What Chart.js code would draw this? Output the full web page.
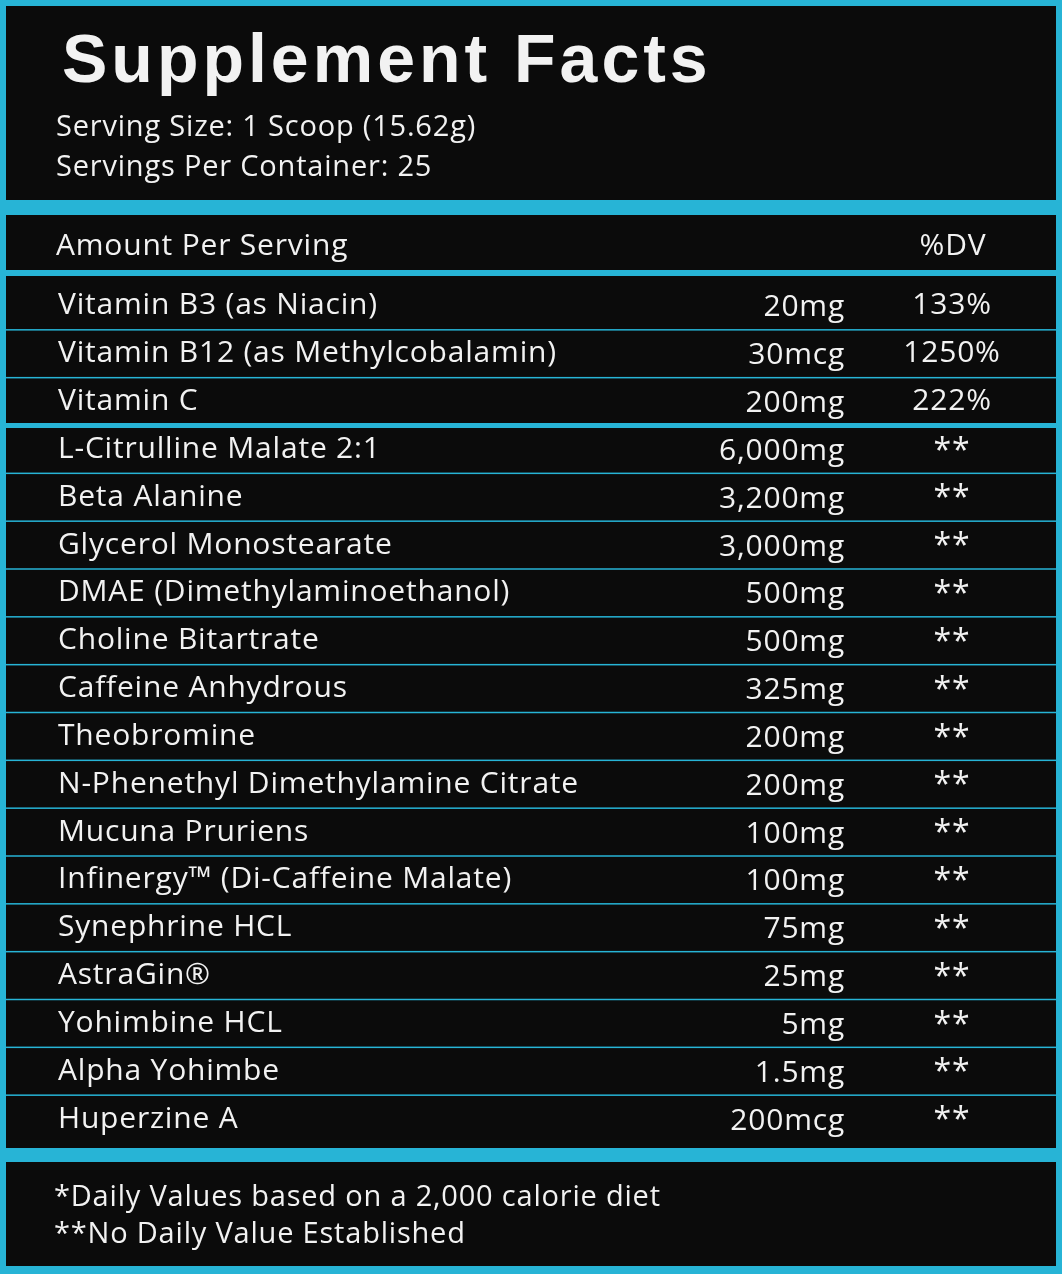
<!DOCTYPE html>
<html lang="en">
<head>
<meta charset="UTF-8">
<title>Supplement Facts</title>
<script src="https://cdn.jsdelivr.net/npm/chart.js"></script>
<style>
  html, body { margin: 0; padding: 0; background: #27b4d6; }
  #wrap { width: 1062px; height: 1274px; }
</style>
</head>
<body>
<div id="wrap"><canvas id="facts" width="1062" height="1274"></canvas></div>
<script>
// label data
const title = 'Supplement Facts';
const servingLines = ['Serving Size: 1 Scoop (15.62g)', 'Servings Per Container: 25'];
const headerLabels = ['Amount Per Serving', '%DV'];
const ingredients = [
  'Vitamin B3 (as Niacin)', 'Vitamin B12 (as Methylcobalamin)', 'Vitamin C',
  'L-Citrulline Malate 2:1', 'Beta Alanine', 'Glycerol Monostearate',
  'DMAE (Dimethylaminoethanol)', 'Choline Bitartrate', 'Caffeine Anhydrous',
  'Theobromine', 'N-Phenethyl Dimethylamine Citrate', 'Mucuna Pruriens',
  'Infinergy™ (Di-Caffeine Malate)', 'Synephrine HCL', 'AstraGin®',
  'Yohimbine HCL', 'Alpha Yohimbe', 'Huperzine A'
];
const amounts = [
  '20mg', '30mcg', '200mg', '6,000mg', '3,200mg', '3,000mg', '500mg', '500mg',
  '325mg', '200mg', '200mg', '100mg', '100mg', '75mg', '25mg', '5mg', '1.5mg', '200mcg'
];
const dailyValues = [
  '133%', '1250%', '222%', '**', '**', '**', '**', '**', '**',
  '**', '**', '**', '**', '**', '**', '**', '**', '**'
];
const footnotes = ['*Daily Values based on a 2,000 calorie diet', '**No Daily Value Established'];
const vitaminCount = 3;

const CYAN = '#27b4d6';
const INK = '#0b0b0b';
const TEXT = '#f2f2f2';
const FONT = '"Open Sans", Lato, sans-serif';

const labelPlugin = {
  id: 'labelPlugin',
  beforeDraw(chart) {
    const ctx = chart.ctx;
    const W = chart.width;
    ctx.save();
    ctx.fillStyle = CYAN;
    ctx.fillRect(0, 0, W, chart.height);
    ctx.fillStyle = INK;
    ctx.fillRect(6, 6, W - 12, 194);
    ctx.fillRect(6, 215, W - 12, 933);
    ctx.fillRect(6, 1162, W - 12, 104);
    ctx.restore();
  },
  afterDraw(chart) {
    const ctx = chart.ctx;
    const y = chart.scales.y;
    const W = chart.width;
    ctx.save();
    ctx.fillStyle = TEXT;
    ctx.textBaseline = 'alphabetic';

    ctx.letterSpacing = '4px';
    ctx.font = 'bold 68px "Liberation Sans", Arial, sans-serif';
    ctx.fillText(title, 62, 82);
    ctx.letterSpacing = '0.8px';
    ctx.font = '29px ' + FONT;
    servingLines.forEach((s, i) => ctx.fillText(s, 56, 136 + i * 40));

    ctx.font = '30px ' + FONT;
    ctx.fillText(headerLabels[0], 56, 255);
    ctx.textAlign = 'center';
    ctx.fillText(headerLabels[1], 953, 255);

    // header rule
    ctx.fillStyle = CYAN;
    ctx.fillRect(6, 270, W - 12, 6);

    const rowH = Math.abs(y.getPixelForValue(1) - y.getPixelForValue(0));
    ingredients.forEach((name, i) => {
      const cy = y.getPixelForValue(i);
      ctx.fillStyle = TEXT;
      ctx.font = '30px ' + FONT;
      ctx.textBaseline = 'middle';
      ctx.textAlign = 'left';
      ctx.fillText(name, 58, cy);
      ctx.textAlign = 'right';
      ctx.fillText(amounts[i], 845, cy + 2);
      ctx.textAlign = 'center';
      if (dailyValues[i] === '**') {
        ctx.font = '32px ' + FONT;
        ctx.fillText(dailyValues[i], 952, cy + 2);
      } else {
        ctx.fillText(dailyValues[i], 952, cy);
      }
      if (i < ingredients.length - 1) {
        const ly = cy + rowH / 2;
        ctx.fillStyle = CYAN;
        const thick = i === vitaminCount - 1 ? 5 : 1.5;
        ctx.fillRect(6, ly - thick / 2, W - 12, thick);
      }
    });

    ctx.fillStyle = TEXT;
    ctx.textAlign = 'left';
    ctx.textBaseline = 'alphabetic';
    ctx.font = '29px ' + FONT;
    footnotes.forEach((s, i) => ctx.fillText(s, 54, 1206 + i * 37));
    ctx.restore();
  }
};

new Chart(document.getElementById('facts'), {
  type: 'bar',
  data: {
    labels: ingredients,
    datasets: [{ data: ingredients.map(() => 0), backgroundColor: 'transparent' }]
  },
  options: {
    indexAxis: 'y',
    responsive: false,
    animation: false,
    events: [],
    layout: { padding: { top: 282, bottom: 131, left: 0, right: 0 } },
    plugins: { legend: { display: false }, tooltip: { enabled: false } },
    scales: {
      x: { display: false, min: 0, max: 1 },
      y: { display: false }
    }
  },
  plugins: [labelPlugin]
});
</script>
</body>
</html>
